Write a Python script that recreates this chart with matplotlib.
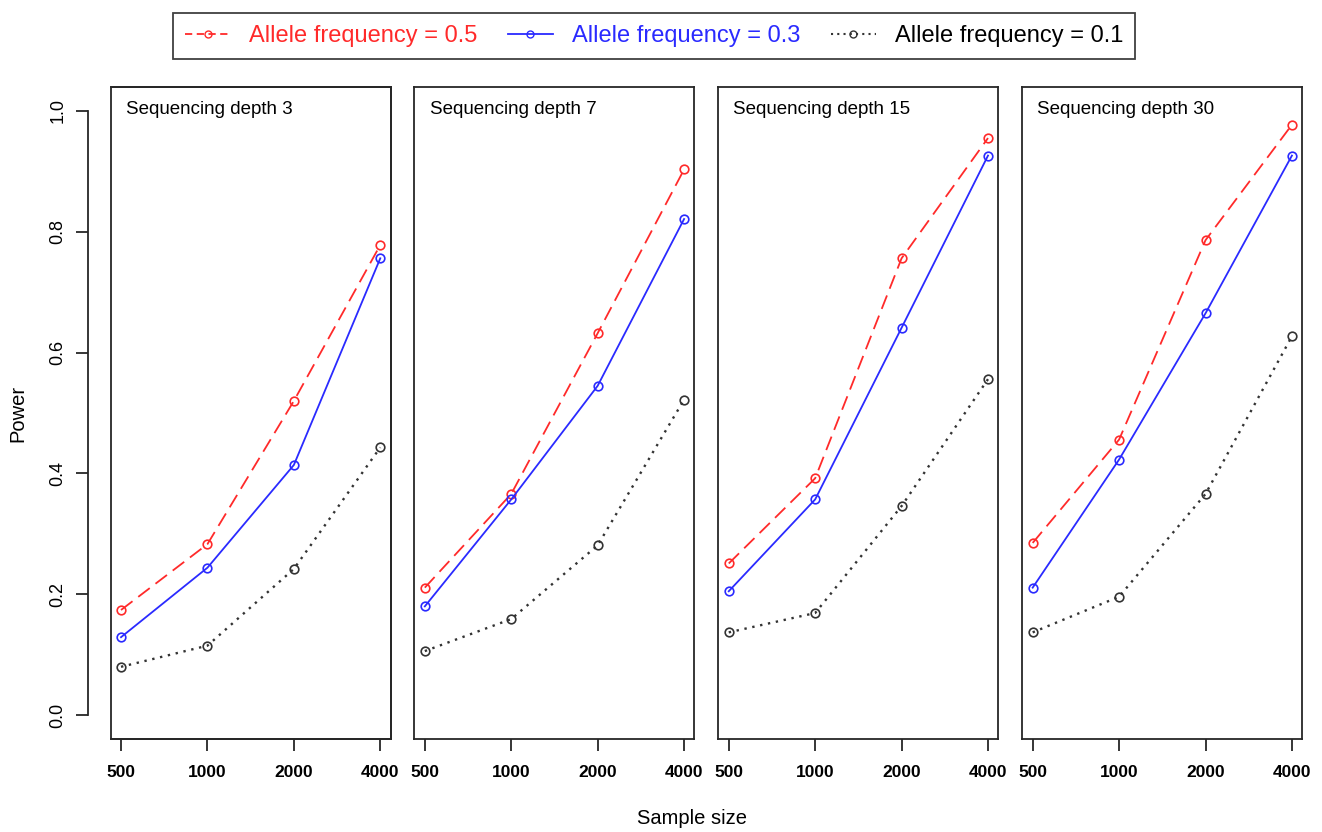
#! /usr/bin/env python3

import matplotlib
matplotlib.use('Agg')
import matplotlib.pyplot as plt
from matplotlib.patches import Rectangle
from matplotlib.lines import Line2D

plt.rcParams['font.family'] = ['Liberation Sans', 'DejaVu Sans']

# Data
sampleSize = [500, 1000, 2000, 4000]
sampleLabels = ['500', '1000', '2000', '4000']
depths = [3, 7, 15, 30]
powerAF05 = [[0.174, 0.283, 0.520, 0.778],     # Allele frequency = 0.5
             [0.211, 0.366, 0.632, 0.903],
             [0.251, 0.392, 0.756, 0.955],
             [0.285, 0.456, 0.786, 0.977]]
powerAF03 = [[0.129, 0.244, 0.414, 0.756],     # Allele frequency = 0.3
             [0.180, 0.357, 0.545, 0.821],
             [0.205, 0.357, 0.641, 0.926],
             [0.211, 0.423, 0.665, 0.926]]
powerAF01 = [[0.080, 0.115, 0.242, 0.443],     # Allele frequency = 0.1
             [0.106, 0.159, 0.281, 0.522],
             [0.137, 0.169, 0.346, 0.556],
             [0.137, 0.196, 0.366, 0.627]]
yTicks = [0.0, 0.2, 0.4, 0.6, 0.8, 1.0]

red = '#ff2a2a'
blue = '#2a2aff'
grey = '#333333'
frame = '#262626'

# Plot figure with fix size
fig = plt.figure(figsize=(13.22, 8.32), dpi=100)

lefts = [0.0837, 0.3135, 0.5434, 0.7733]
width = 0.2118
bottom = 0.1114
height = 0.7844

for i in range(len(depths)):
    ax = fig.add_axes([lefts[i], bottom, width, height])

    ax.plot(sampleSize, powerAF05[i], color=red, lw=1.3, dashes=(8, 4),
            marker='o', ms=6.2, mfc='none', mec=red, mew=1.2)
    ax.plot(sampleSize, powerAF03[i], color=blue, lw=1.3,
            marker='o', ms=6.2, mfc='none', mec=blue, mew=1.2)
    ax.plot(sampleSize, powerAF01[i], color=grey, lw=1.7, dashes=(1, 2.4),
            marker='o', ms=6.2, mfc='none', mec=grey, mew=1.2)

    # Axis scale and limits
    ax.set_xscale('log', base=2)
    ax.set_xlim(sampleSize[0] / 2 ** 0.12, sampleSize[-1] * 2 ** 0.12)
    ax.set_ylim(-0.04, 1.04)
    ax.set_xticks(sampleSize)
    ax.set_xticklabels(sampleLabels, fontsize=12.5, fontweight='bold')
    ax.minorticks_off()
    ax.tick_params(axis='x', length=8.6, width=1.3, color=frame, pad=10)

    for s in ax.spines.values():
        s.set_color(frame)
        s.set_linewidth(1.3)

    if i == 0:
        # R style detached y axis
        ax.spines['left'].set_position(('outward', 16.3))
        ax.spines['left'].set_bounds(0, 1)
        ax.set_yticks(yTicks)
        ax.set_yticklabels(['%.1f' % v for v in yTicks], fontsize=13,
                           rotation=90, va='center')
        ax.tick_params(axis='y', length=8.6, width=1.3, color=frame, pad=7)
        ax.add_patch(Rectangle((0, 0), 1, 1, transform=ax.transAxes, fill=False,
                               lw=1.3, edgecolor=frame, clip_on=False))
        ax.set_ylabel('Power', fontsize=14.5, labelpad=16)
    else:
        ax.set_yticks([])

    # Panel title
    ax.text(0.054, 0.978, 'Sequencing depth %d' % depths[i], transform=ax.transAxes,
            ha='left', va='top', fontsize=13.5)

# Axis name
fig.text(0.5234, 0.0168, 'Sample size', ha='center', va='center', fontsize=14.5)

# Legend
handles = [Line2D([], [], color=red, lw=1.3, dashes=(4, 2.5), marker='o', ms=5,
                  mfc='none', mec=red, mew=1.0),
           Line2D([], [], color=blue, lw=1.3, marker='o', ms=5,
                  mfc='none', mec=blue, mew=1.0),
           Line2D([], [], color=grey, lw=1.5, dashes=(1, 2), marker='o', ms=5,
                  mfc='none', mec=grey, mew=1.0)]
labels = ['Allele frequency = 0.5', 'Allele frequency = 0.3', 'Allele frequency = 0.1']
leg = fig.legend(handles, labels, loc='center', bbox_to_anchor=(0.4947, 0.9567),
                 ncol=3, fontsize=17, frameon=True, fancybox=False,
                 edgecolor='#111111', handlelength=1.9, handletextpad=0.8,
                 columnspacing=1.3, borderpad=0.5,
                 labelcolor=[red, blue, 'black'])
leg.get_frame().set_linewidth(1.3)

# Save figure
plt.savefig('out.png', dpi=100)
